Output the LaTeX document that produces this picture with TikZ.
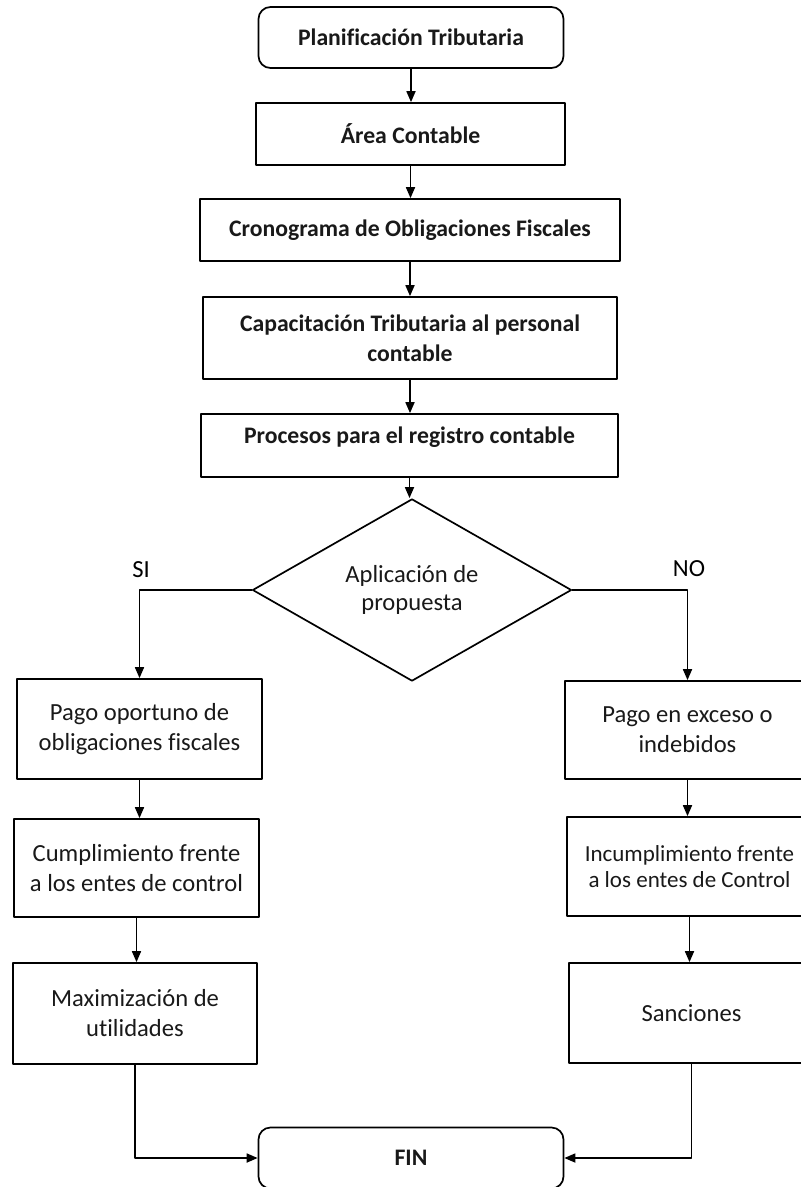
\documentclass[tikz,border=0pt]{standalone}
\usepackage{fontspec}
\setmainfont{Carlito}[Ligatures=NoCommon]
\usetikzlibrary{shapes.geometric,arrows.meta}

\begin{document}
\begin{tikzpicture}[x=1pt, y=-1pt, line join=round,
	caja/.style={draw, line width=1.7pt, align=center, inner sep=0pt, text=black!90,
		font=\fontsize{24.6}{30}\selectfont},
	cajab/.style={caja, font=\bfseries\fontsize{23.7}{30}\selectfont},
	term/.style={cajab, rounded corners=12pt, minimum width=305pt, minimum height=61pt},
	flecha/.style={line width=1.7pt, -{Triangle[length=11pt,width=9pt]}}]
	\useasboundingbox (0,0) rectangle (801,1187);
	% columna central
	\node[term] (plan) at (411,37.5) {Planificación Tributaria};
	\node[cajab, minimum width=309pt, minimum height=62pt] (area) at (410.5,134) {Área Contable};
	\node[cajab, minimum width=420pt, minimum height=62pt] (crono) at (410,230) {Cronograma de Obligaciones Fiscales};
	\node[cajab, minimum width=414pt, minimum height=82pt] (capac) at (410,338) {Capacitación Tributaria al personal\\contable};
	\node[cajab, minimum width=417pt, minimum height=63pt, text depth=20pt] (proc) at (409.5,445.5) {Procesos para el registro contable};
	\node[caja, diamond, minimum width=319pt, minimum height=155pt, font=\fontsize{24.6}{28}\selectfont] (dec) at (412,590) {Aplicación de\\propuesta};
	\node[font=\fontsize{24.6}{30}\selectfont] (si) at (141,570) {SI};
	\node[font=\fontsize{24.6}{30}\selectfont] (no) at (689,569) {NO};
	% rama SI
	\node[caja, minimum width=245pt, minimum height=100pt] (pago) at (139.5,729) {Pago oportuno de\\obligaciones fiscales};
	\node[caja, minimum width=245pt, minimum height=98pt] (cumple) at (136.5,868) {Cumplimiento frente\\a los entes de control};
	\node[caja, minimum width=244pt, minimum height=101pt] (maxim) at (135,1013.5) {Maximización de\\utilidades};
	% rama NO
	\node[caja, minimum width=245pt, minimum height=98pt] (exceso) at (687.5,730) {Pago en exceso o\\indebidos};
	\node[caja, minimum width=245pt, minimum height=99pt, font=\fontsize{23}{26}\selectfont] (incum) at (689.5,866.5) {Incumplimiento frente\\a los entes de Control};
	\node[caja, minimum width=245pt, minimum height=100pt] (sanc) at (691.5,1013) {Sanciones};
	\node[term] (fin) at (411,1158) {FIN};
	% flechas
	\foreach \a/\b in {plan/area, area/crono, crono/capac, capac/proc, proc/dec, pago/cumple, cumple/maxim, exceso/incum, incum/sanc}
		\draw[flecha] (\a.south) -- (\a.south |- \b.north);
	\draw[flecha] (dec.west) -| (pago.north);
	\draw[flecha] (dec.east) -| (exceso.north);
	\draw[flecha] (maxim.south) |- (fin.west);
	\draw[flecha] (sanc.south) |- (fin.east);
\end{tikzpicture}
\end{document}
